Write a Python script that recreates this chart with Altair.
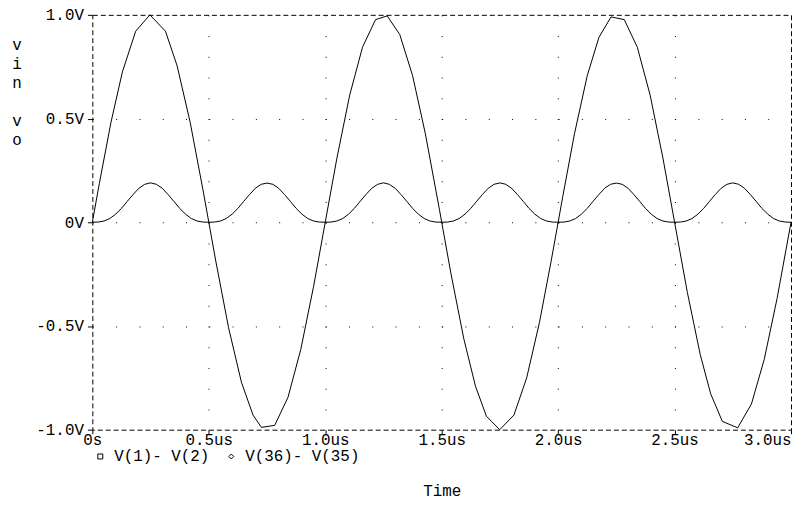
import altair as alt
import pandas as pd

# ---- data (time in us, voltages in V) ----
# vin = V(1)- V(2): coarse transient steps
time_vin = [0, 0.03, 0.08, 0.129, 0.186, 0.247, 0.314, 0.364, 0.42, 0.475,
            0.53, 0.585, 0.64, 0.69, 0.726, 0.783, 0.84, 0.895, 0.95,
            1.0, 1.05, 1.105, 1.16, 1.216, 1.266, 1.32, 1.375, 1.43, 1.49,
            1.54, 1.595, 1.645, 1.692, 1.749, 1.81, 1.865, 1.92, 1.97,
            2.02, 2.07, 2.125, 2.175, 2.227, 2.284, 2.34, 2.395, 2.45, 2.5,
            2.555, 2.61, 2.655, 2.705, 2.771, 2.83, 2.885, 2.94, 3.0]

vin = [0, 0.187, 0.482, 0.725, 0.921, 1.0, 0.921, 0.754, 0.482, 0.156,
       -0.187, -0.509, -0.771, -0.930, -0.989, -0.979, -0.844, -0.613, -0.309,
       0, 0.309, 0.613, 0.844, 0.977, 0.995, 0.905, 0.707, 0.426, 0.063,
       -0.249, -0.562, -0.790, -0.935, -1.0, -0.930, -0.750, -0.482, -0.187,
       0.125, 0.426, 0.707, 0.891, 0.990, 0.977, 0.844, 0.613, 0.309, 0,
       -0.339, -0.637, -0.827, -0.960, -0.991, -0.876, -0.661, -0.368, 0]

# vo = V(36)- V(35): smooth humps of ~0.19 V
time_vo = [0, 0.025, 0.05, 0.075, 0.1, 0.125, 0.15, 0.175, 0.2, 0.225,
           0.25, 0.275, 0.3, 0.325, 0.35, 0.375, 0.4, 0.425, 0.45, 0.475,
           0.5, 0.525, 0.55, 0.575, 0.6, 0.625, 0.65, 0.675, 0.7, 0.725,
           0.75, 0.775, 0.8, 0.825, 0.85, 0.875, 0.9, 0.925, 0.95, 0.975,
           1.0, 1.025, 1.05, 1.075, 1.1, 1.125, 1.15, 1.175, 1.2, 1.225,
           1.25, 1.275, 1.3, 1.325, 1.35, 1.375, 1.4, 1.425, 1.45, 1.475,
           1.5, 1.525, 1.55, 1.575, 1.6, 1.625, 1.65, 1.675, 1.7, 1.725,
           1.75, 1.775, 1.8, 1.825, 1.85, 1.875, 1.9, 1.925, 1.95, 1.975,
           2.0, 2.025, 2.05, 2.075, 2.1, 2.125, 2.15, 2.175, 2.2, 2.225,
           2.25, 2.275, 2.3, 2.325, 2.35, 2.375, 2.4, 2.425, 2.45, 2.475,
           2.5, 2.525, 2.55, 2.575, 2.6, 2.625, 2.65, 2.675, 2.7, 2.725,
           2.75, 2.775, 2.8, 2.825, 2.85, 2.875, 2.9, 2.925, 2.95, 2.975,
           3.0]

vo = [0, 0.001, 0.006, 0.018, 0.039, 0.067, 0.101, 0.134, 0.164, 0.183,
      0.190, 0.183, 0.164, 0.134, 0.101, 0.067, 0.039, 0.018, 0.006, 0.001,
      0, 0.001, 0.006, 0.018, 0.039, 0.067, 0.101, 0.134, 0.164, 0.183,
      0.189, 0.183, 0.164, 0.134, 0.101, 0.067, 0.039, 0.018, 0.006, 0.001,
      0, 0.001, 0.006, 0.018, 0.039, 0.067, 0.101, 0.134, 0.164, 0.183,
      0.190, 0.183, 0.164, 0.134, 0.101, 0.067, 0.039, 0.018, 0.006, 0.001,
      0, 0.001, 0.006, 0.018, 0.039, 0.067, 0.101, 0.134, 0.164, 0.183,
      0.190, 0.183, 0.164, 0.134, 0.101, 0.067, 0.039, 0.018, 0.006, 0.001,
      0, 0.001, 0.006, 0.018, 0.039, 0.067, 0.101, 0.134, 0.164, 0.183,
      0.189, 0.183, 0.164, 0.134, 0.101, 0.067, 0.039, 0.018, 0.006, 0.001,
      0, 0.001, 0.006, 0.018, 0.039, 0.067, 0.101, 0.134, 0.164, 0.183,
      0.190, 0.183, 0.164, 0.134, 0.101, 0.067, 0.039, 0.018, 0.006, 0.001,
      0]

series_names = ["V(1)- V(2)", "V(36)- V(35)"]
x_tick_values = [0, 0.5, 1.0, 1.5, 2.0, 2.5, 3.0]
x_tick_labels = ["0s", "0.5us", "1.0us", "1.5us", "2.0us", "2.5us", "3.0us"]
y_tick_values = [-1.0, -0.5, 0, 0.5, 1.0]
y_tick_labels = ["-1.0V", "-0.5V", "0V", "0.5V", "1.0V"]
y_title_vin = ["v", "i", "n"]
y_title_vo = ["v", "o"]

df = pd.DataFrame({
    "t": time_vin + time_vo,
    "v": vin + vo,
    "series": [series_names[0]] * len(time_vin) + [series_names[1]] * len(time_vo),
})

FONT = "Liberation Mono"
W, H = 704, 418
LH = 19.3

x_label_expr = "[" + ",".join(f"'{s}'" for s in x_tick_labels) + "][round(datum.value*2)]"
y_label_expr = "[" + ",".join(f"'{s}'" for s in y_tick_labels) + "][round((datum.value+1)*2)]"

xscale = alt.Scale(domain=[0, 3], nice=False, zero=False)
yscale = alt.Scale(domain=[-1, 1], nice=False, zero=False)

xaxis = alt.Axis(
    values=x_tick_values, labelExpr=x_label_expr, domain=False,
    ticks=True, tickSize=4, tickColor="black", tickWidth=1,
    labelFont=FONT, labelFontSize=16, labelColor="black",
    labelBaseline="alphabetic", labelPadding=11, labelFlush=False, labelOverlap=False,
    labelAlign={"condition": {"test": "datum.value >= 3", "value": "right"}, "value": "center"},
    grid=True, gridColor="black", gridWidth=1, gridDash=[1, 19.9],
    gridOpacity={"condition": {"test": "datum.value <= 0 || datum.value >= 3", "value": 0}, "value": 1},
    title="Time", titleFont=FONT, titleFontSize=16, titleFontWeight="normal",
    titleColor="black", titleY=66, titleBaseline="alphabetic",
)
yaxis = alt.Axis(
    values=y_tick_values, labelExpr=y_label_expr, domain=False,
    ticks=True, tickSize=5, tickColor="black", tickWidth=1,
    labelFont=FONT, labelFontSize=16, labelColor="black",
    labelBaseline="middle", labelAlign="right", labelPadding=4, labelOverlap=False,
    grid=True, gridColor="black", gridWidth=1, gridDash=[1, 22.467],
    gridOpacity={"condition": {"test": "abs(datum.value) >= 1", "value": 0}, "value": 1},
    title=None,
)

base = alt.Chart(df)

lines = base.mark_line(color="black", strokeWidth=1, interpolate="linear").encode(
    x=alt.X("t:Q", scale=xscale, axis=xaxis),
    y=alt.Y("v:Q", scale=yscale, axis=yaxis),
    detail="series:N",
)

legend_pts = base.mark_point(opacity=0).encode(
    x=alt.X("t:Q", scale=xscale),
    y=alt.Y("v:Q", scale=yscale),
    shape=alt.Shape(
        "series:N",
        scale=alt.Scale(domain=series_names, range=["square", "diamond"]),
        legend=alt.Legend(
            title=None, orient="none", legendX=0, legendY=437, direction="horizontal",
            padding=0, symbolSize=25, symbolStrokeColor="black", symbolFillColor="transparent",
            symbolStrokeWidth=1, symbolOpacity=1, labelFont=FONT, labelFontSize=16,
            labelColor="black", labelOffset=6, columnPadding=13,
        ),
    ),
)

one = pd.DataFrame({"a": [0]})
title_vin = alt.Chart(one).mark_text(
    text=y_title_vin, font=FONT, fontSize=16, color="black", align="center",
    baseline="alphabetic", lineHeight=LH,
).encode(x=alt.value(-76), y=alt.value(35))
title_vo = alt.Chart(one).mark_text(
    text=y_title_vo, font=FONT, fontSize=16, color="black", align="center",
    baseline="alphabetic", lineHeight=LH,
).encode(x=alt.value(-76), y=alt.value(35 + 4 * LH))

chart = alt.layer(lines, legend_pts, title_vin, title_vo).properties(
    width=W, height=H,
    autosize=alt.AutoSizeParams(type="none"),
    padding={"left": 85, "top": 5, "right": 4, "bottom": 75},
    background="white",
).configure_view(stroke="black", strokeDash=[5, 3], strokeWidth=1)

chart.save("out.html", embed_options={"renderer": "svg", "actions": False})
